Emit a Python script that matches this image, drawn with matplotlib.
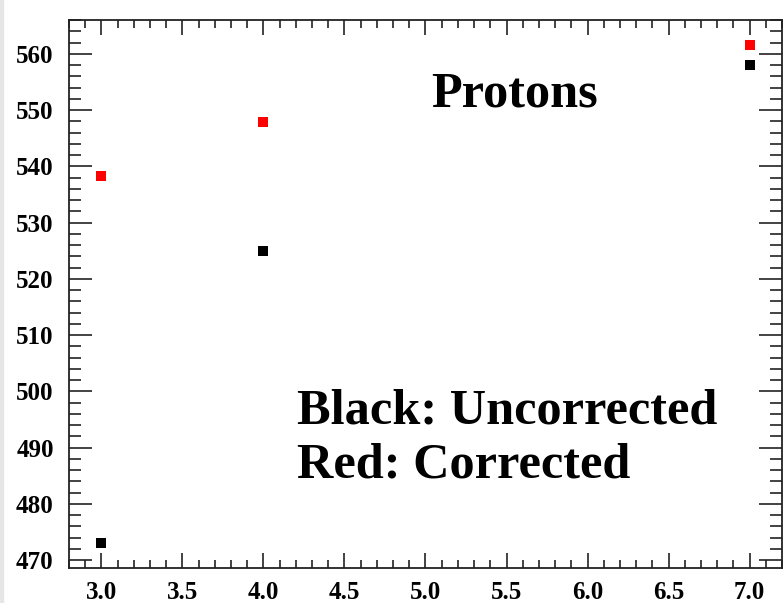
import matplotlib
matplotlib.use("Agg")
import matplotlib.pyplot as plt
from matplotlib.ticker import MultipleLocator, FormatStrFormatter
from matplotlib.patches import Rectangle

# Proton measurements at each setting
x_vals = [3.0, 4.0, 7.0]
uncorrected = [473.0, 525.0, 558.0]
corrected = [538.3, 547.8, 561.5]

plt.rcParams["font.family"] = ["Liberation Serif", "DejaVu Serif"]
plt.rcParams["font.weight"] = "bold"

fig = plt.figure(figsize=(7.83, 6.03), dpi=100)
fig.patches.append(Rectangle((0, 0), 3.0 / 783, 1, transform=fig.transFigure,
                             color="#e6e6e6", zorder=0))
ax = fig.add_axes([69 / 783, 35 / 603, 713 / 783, 548 / 603])

ax.plot(x_vals, uncorrected, linestyle="none", marker="s", markersize=7.2,
        color="black", markeredgewidth=0)
ax.plot(x_vals, corrected, linestyle="none", marker="s", markersize=7.2,
        color="red", markeredgewidth=0)

ax.set_xlim(2.8, 7.2)
ax.set_ylim(468.6, 566.0)

ax.xaxis.set_major_locator(MultipleLocator(0.5))
ax.xaxis.set_minor_locator(MultipleLocator(0.1))
ax.yaxis.set_major_locator(MultipleLocator(10))
ax.yaxis.set_minor_locator(MultipleLocator(2))
ax.xaxis.set_major_formatter(FormatStrFormatter("%.1f"))
ax.yaxis.set_major_formatter(FormatStrFormatter("%d"))

for side in ax.spines.values():
    side.set_linewidth(1.3)
    side.set_color("#222222")

ax.tick_params(axis="both", which="both", direction="in", top=True, right=True,
               color="#222222", width=1.2, labelsize=18)
ax.tick_params(axis="x", which="major", length=11, pad=9.5)
ax.tick_params(axis="x", which="minor", length=5.5)
ax.tick_params(axis="y", which="major", length=16.5, pad=11)
ax.tick_params(axis="y", which="minor", length=8.5)
for lbl in ax.get_xticklabels() + ax.get_yticklabels():
    lbl.set_fontweight("bold")

ax.text(431 / 783, 1 - 106.7 / 603, "Protons", transform=fig.transFigure,
        fontsize=36.3, fontweight="bold", ha="left", va="baseline")
ax.text(297 / 783, 1 - 424 / 603, "Black: Uncorrected", transform=fig.transFigure,
        fontsize=36.3, fontweight="bold", ha="left", va="baseline")
ax.text(297 / 783, 1 - 477 / 603, "Red: Corrected", transform=fig.transFigure,
        fontsize=36.3, fontweight="bold", ha="left", va="baseline")

fig.savefig("out.png", dpi=100)
